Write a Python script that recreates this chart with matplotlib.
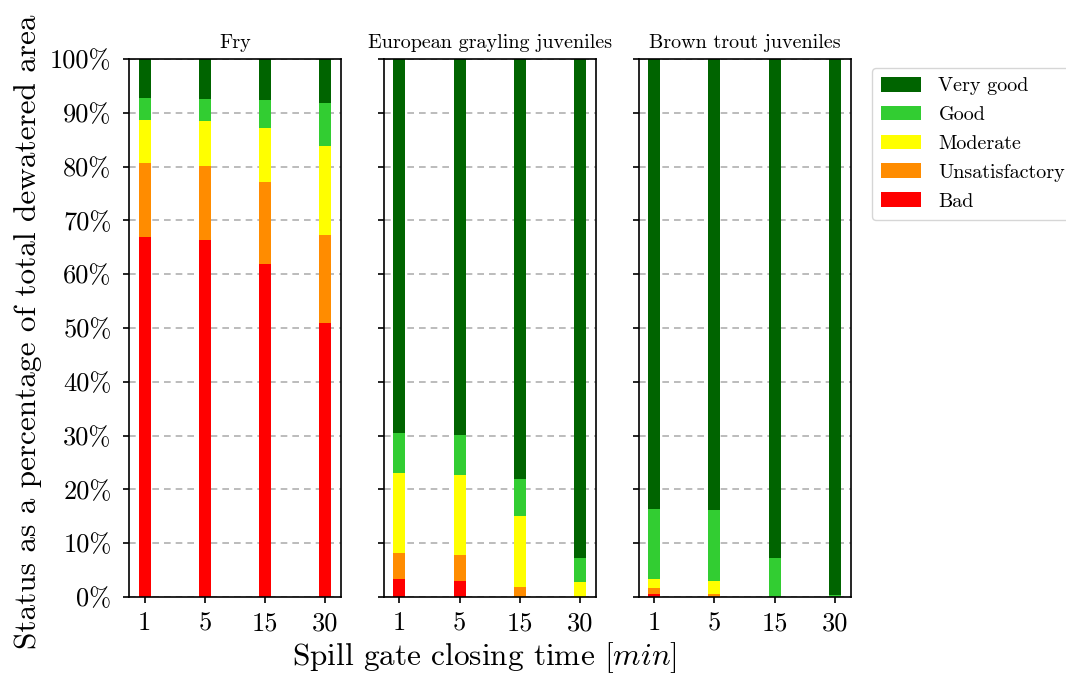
import matplotlib
matplotlib.use("Agg")
import matplotlib.pyplot as plt
import numpy as np

plt.rcParams['font.family'] = 'serif'
plt.rcParams['font.serif'] = ['cmr10', 'DejaVu Serif']
plt.rcParams['mathtext.fontset'] = 'cm'
plt.rcParams['axes.formatter.use_mathtext'] = True

categories = ["1", "5", "15", "30"]
panels = ["Fry", "European grayling juveniles", "Brown trout juveniles"]
classes = ["Very good", "Good", "Moderate", "Unsatisfactory", "Bad"]
colors = ["#006400", "#32CD32", "#FFFF00", "#FF8C00", "#FF0000"]

# percentages per panel, stacked from bottom: Bad, Unsatisfactory, Moderate, Good, Very good
fry_bad = [66.9, 66.4, 61.9, 50.9]
fry_unsat = [13.8, 13.8, 15.2, 16.4]
fry_moderate = [8.0, 8.2, 10.0, 16.6]
fry_good = [4.0, 4.1, 5.3, 7.9]
fry_verygood = [7.3, 7.5, 7.6, 8.2]

gray_bad = [3.4, 3.0, 0.0, 0.0]
gray_unsat = [4.8, 4.8, 1.8, 0.0]
gray_moderate = [14.8, 14.9, 13.3, 2.7]
gray_good = [7.4, 7.4, 6.9, 4.6]
gray_verygood = [69.6, 69.9, 78.0, 92.7]

trout_bad = [0.6, 0.0, 0.0, 0.0]
trout_unsat = [1.1, 0.6, 0.0, 0.0]
trout_moderate = [1.6, 2.4, 0.0, 0.0]
trout_good = [13.1, 13.2, 7.3, 0.3]
trout_verygood = [83.6, 83.8, 92.7, 99.7]

data = [
    [fry_bad, fry_unsat, fry_moderate, fry_good, fry_verygood],
    [gray_bad, gray_unsat, gray_moderate, gray_good, gray_verygood],
    [trout_bad, trout_unsat, trout_moderate, trout_good, trout_verygood],
]

yticks = list(range(0, 101, 10))
yticklabels = [f"{v}%" for v in yticks]

fig = plt.figure(figsize=(10.66, 6.78), dpi=100)
lefts = [0.121, 0.360, 0.599]
axes = []
for i in range(3):
    ax = fig.add_axes([lefts[i], 0.1195, 0.199, 0.7935])
    axes.append(ax)

x = np.arange(len(categories))
handles = []
for i, ax in enumerate(axes):
    bottom = np.zeros(len(categories))
    stack = data[i]
    for j, vals in enumerate(stack):
        col = colors[4 - j]
        lab = classes[4 - j]
        b = ax.bar(x, vals, width=0.2, bottom=bottom, color=col, label=lab, zorder=2)
        if i == 0:
            handles.append(b)
        bottom = bottom + np.array(vals)
    ax.set_ylim(0, 100)
    ax.set_xticks(x)
    ax.set_xticklabels(categories, fontsize=19)
    ax.set_yticks(yticks)
    if i == 0:
        ax.set_yticklabels(yticklabels, fontsize=19)
    else:
        ax.set_yticklabels([])
    ax.yaxis.grid(True, linestyle=(0, (4, 3)), color="#b0b0b0", linewidth=1.2, zorder=0)
    ax.set_axisbelow(True)
    ax.set_title(panels[i], fontsize=14.5, pad=8)
    ax.tick_params(axis='both', length=4.5, width=1.2)
    ax.tick_params(axis='y', pad=8)
    ax.tick_params(axis='x', pad=6)
    for s in ax.spines.values():
        s.set_linewidth(1.2)

fig.text(0.026, 0.51, "Status as a percentage of total dewatered area", fontsize=22.5,
         rotation=90, ha="center", va="center")
fig.text(0.454, 0.03, r"Spill gate closing time [$min$]", fontsize=22.5, ha="center", va="center")

handles = handles[::-1]
fig.legend(handles, classes, loc="upper left", bbox_to_anchor=(0.818, 0.90),
           fontsize=14.5, frameon=True, handlelength=2.0, handleheight=0.75,
           handletextpad=0.85, borderpad=0.45, labelspacing=0.52, fancybox=True,
           edgecolor="#cccccc", borderaxespad=0)

fig.savefig("out.png", dpi=100)
